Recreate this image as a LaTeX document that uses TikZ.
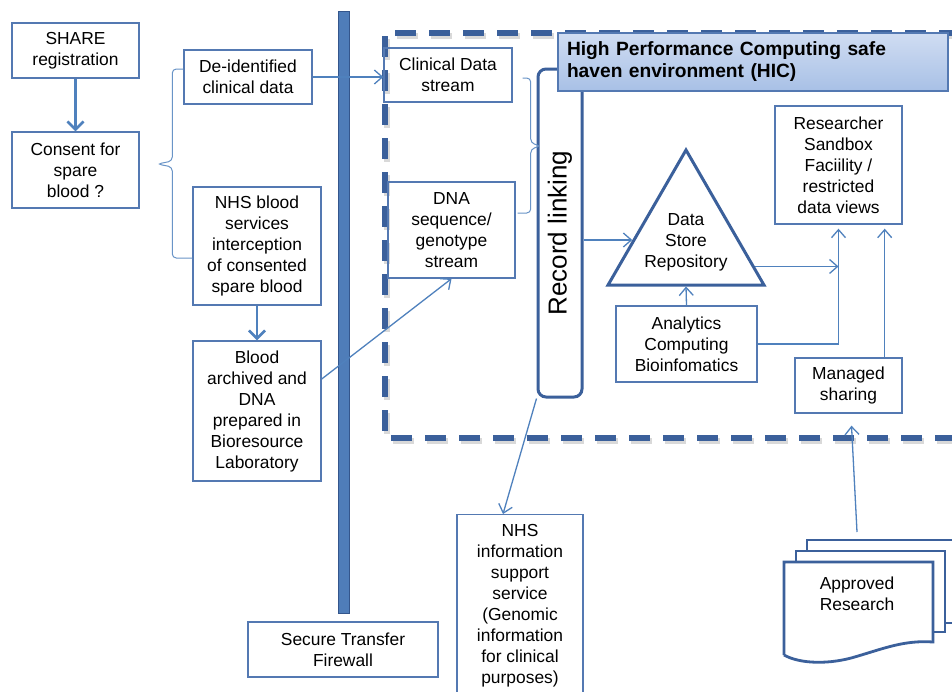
\documentclass[tikz,border=0pt]{standalone}
\usepackage{fontspec}
\setmainfont{Liberation Sans}
\usetikzlibrary{arrows.meta,shapes.geometric,positioning}
\definecolor{boxline}{RGB}{84,121,178}
\definecolor{darkline}{RGB}{59,96,155}
\definecolor{arrowline}{RGB}{79,129,189}
\definecolor{barfill}{RGB}{79,125,185}
\definecolor{barline}{RGB}{52,86,140}
\definecolor{hictop}{RGB}{208,221,242}
\definecolor{hicbot}{RGB}{168,192,230}

\begin{document}
\begin{tikzpicture}[x=0.5pt,y=-0.5pt,
   font=\fontsize{8.7}{10.5}\selectfont,
   box/.style={draw=boxline,line width=0.7pt,align=center,inner sep=1pt},
   arr/.style={draw=arrowline,line width=0.65pt,-{Straight Barb[length=4pt,width=7pt]}},
   thickarr/.style={draw=arrowline,line width=1.3pt,-{Straight Barb[length=4pt,width=8pt]}},
   brc/.style={draw=arrowline!85,line width=0.5pt,rounded corners=2pt},
   frame/.style={line width=3pt,dash pattern=on 10.5pt off 6.5pt},
   doc/.style={draw=darkline,line width=1.4pt,fill=white}]
   \useasboundingbox (0,0) rectangle (952,691);
   \clip (0,0) rectangle (952,691);
   \fill[white] (0,0) rectangle (952,691);

   \draw[black!15,frame,shift={(1.5,3)}] (960,33) -- (385,33) -- (385,438) -- (960,438);
   \draw[darkline,frame] (960,33) -- (385,33) -- (385,438) -- (960,438);
   \draw[draw=barline,fill=barfill,line width=0.5pt] (338,11) rectangle (349,613);

   \node[box,minimum width=63.5pt,minimum height=27.5pt] (share) at (75.5,50.5) {SHARE\\registration};
   \node[box,minimum width=63.5pt,minimum height=38pt] (consent) at (75.5,170) {Consent for\\spare\\blood ?};
   \node[box,minimum width=64pt,minimum height=27pt] (deid) at (248,77) {De-identified\\clinical data};
   \node[box,minimum width=64pt,minimum height=59pt] (nhsblood) at (257,246) {NHS blood\\services\\interception\\of consented\\spare blood};
   \node[box,minimum width=64pt,minimum height=70pt] (blood) at (257,411) {Blood\\archived and\\DNA\\prepared in\\Bioresource\\Laboratory};
   \node[box,minimum width=95pt,minimum height=27.5pt] (firewall) at (343,649.5) {Secure Transfer\\Firewall};

   \node[box,minimum width=64pt,minimum height=27pt] (clinical) at (448,75) {Clinical Data\\stream};
   \node[box,minimum width=63.5pt,minimum height=48pt] (dna) at (451.5,230) {DNA\\sequence/\\genotype\\stream};
   \node[draw=darkline,line width=1.5pt,fill=white,rounded corners=4pt,minimum width=22pt,minimum height=164pt,inner sep=0pt,
         font=\fontsize{13}{15}\selectfont] (reclink) at (560,233) {\rotatebox{90}{Record linking}};
   \node[draw=boxline,line width=0.6pt,top color=hictop,bottom color=hicbot,minimum width=195pt,minimum height=29pt,
         inner xsep=4.5pt,text width=186pt,align=left,font=\bfseries\fontsize{9.6}{11}\selectfont] (hic) at (753,62)
         {High Performance Computing safe\\haven environment (HIC)};

   \node[regular polygon,regular polygon sides=3,draw=darkline,line width=1.5pt,minimum size=90pt,inner sep=0pt] (store) at (686,240) {};
   \node[align=center] (storetext) at (686,242) {Data\\Store\\Repository};
   \node[box,minimum width=70.5pt,minimum height=38pt] (analytics) at (686.5,344) {Analytics\\Computing\\Bioinfomatics};
   \node[box,minimum width=63.5pt,minimum height=59pt] (researcher) at (838.5,165) {Researcher\\Sandbox\\Faciility /\\restricted\\data views};
   \node[box,minimum width=53.5pt,minimum height=27.5pt] (managed) at (848.5,385.5) {Managed\\sharing};
   \node[box,anchor=north,minimum width=63pt,minimum height=91.5pt] (nhsinfo) at (520,514)
         {NHS\\information\\support\\service\\(Genomic\\information\\for clinical\\purposes)};

   \draw[doc] (807,551) -- (807,540) -- (970,540);
   \draw[doc] (945,623) -- (970,623);
   \draw[doc] (796,562) -- (796,551) -- (945,551) -- (945,632) -- (933,632);
   \draw[doc] (784,655) -- (784,562) -- (933,562) -- (933,642)
         .. controls (905,640) and (885,648) .. (858,656) .. controls (830,665) and (800,664) .. (784,655);
   \node[align=center] (approved) at (857,594) {Approved\\Research};
   \coordinate (apptop) at (857,532);

   \draw[brc] ([yshift=4pt]deid.west) -- ++(-11,0) -- ++(0,92) -- ++(-15,3) -- ++(15,3) -- ++(0,91) -- ([yshift=-6pt]nhsblood.west);
   \draw[brc] ([xshift=5pt,yshift=-1.5pt]clinical.east) -- ++(8,0) -- ++(0,65) -- ++(10,3) -- ++(-10,3) -- ++(0,64) -- ++(-13,0);

   \draw[thickarr] (share) -- (consent);
   \draw[thickarr] (nhsblood) -- (blood);
   \draw[arr] (deid.east) -- (deid.east -| clinical.west);
   \draw[arr] ([yshift=16pt]blood.east) -- (dna.south);
   \draw[arr] (reclink.east |- store.west) -- (store.west);
   \draw[arr] (reclink.south west) -- ([xshift=-8.5pt]nhsinfo.north);
   \draw[arr] (analytics.north) -- (store.south);
   \draw[arr] (store.-21) -- (store.-21 -| researcher.south);
   \draw[arr] (analytics.east) -| ([yshift=-2pt]researcher.south);
   \draw[arr] ([xshift=-9pt]managed.north east) -- ([xshift=-9pt,yshift=-2pt]researcher.south east);
   \draw[arr] (apptop) -- ([xshift=1.5pt,yshift=-6pt]managed.south);
\end{tikzpicture}
\end{document}
